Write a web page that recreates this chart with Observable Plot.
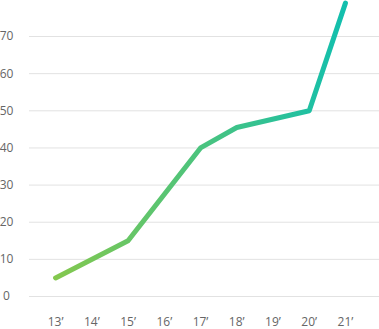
<!DOCTYPE html>
<html>
<head>
<meta charset="utf-8">
<script src="https://cdn.jsdelivr.net/npm/d3@7"></script>
<script src="https://cdn.jsdelivr.net/npm/@observablehq/plot@0.6"></script>
<style>
  html, body { margin: 0; padding: 0; background: #fff; }
</style>
</head>
<body>
<div id="chart"></div>
<script>
const years = [13, 15, 17, 18, 20, 21];
const values = [5, 15, 40, 45.5, 50, 79];
const xTicks = [13, 14, 15, 16, 17, 18, 19, 20, 21];
const yTicks = [0, 10, 20, 30, 40, 50, 60, 70];

const data = years.map((y, i) => ({year: y, value: values[i]}));

const chart = Plot.plot({
  width: 379,
  height: 329,
  marginLeft: 29,
  marginRight: 0,
  marginTop: 0,
  marginBottom: 33,
  style: {fontFamily: "'Open Sans', sans-serif", fontSize: "12px", color: "#666", background: "#fff"},
  x: {domain: [12.28, 21.94]},
  y: {domain: [0, 79.7]},
  marks: [
    Plot.gridY(yTicks, {stroke: "#e2e2e2", strokeOpacity: 1, strokeWidth: 1}),
    Plot.axisY(yTicks, {tickSize: 0, tickPadding: 23, textAnchor: "middle", label: null, fill: "#666"}),
    Plot.axisX(xTicks, {tickSize: 0, tickPadding: 21, tickFormat: d => d + "\u2019", label: null, fill: "#666"}),
    Plot.line(data, {x: "year", y: "value", stroke: "url(#lineGrad)", strokeWidth: 5, strokeLinecap: "round", strokeLinejoin: "round"})
  ]
});

const svg = d3.select(chart);
const defs = svg.insert("defs", ":first-child");
const grad = defs.append("linearGradient").attr("id", "lineGrad").attr("x1", "0").attr("x2", "1").attr("y1", "0").attr("y2", "0");
grad.append("stop").attr("offset", "0%").attr("stop-color", "#84c84e");
grad.append("stop").attr("offset", "100%").attr("stop-color", "#12bfae");

document.getElementById("chart").appendChild(chart);
</script>
</body>
</html>
